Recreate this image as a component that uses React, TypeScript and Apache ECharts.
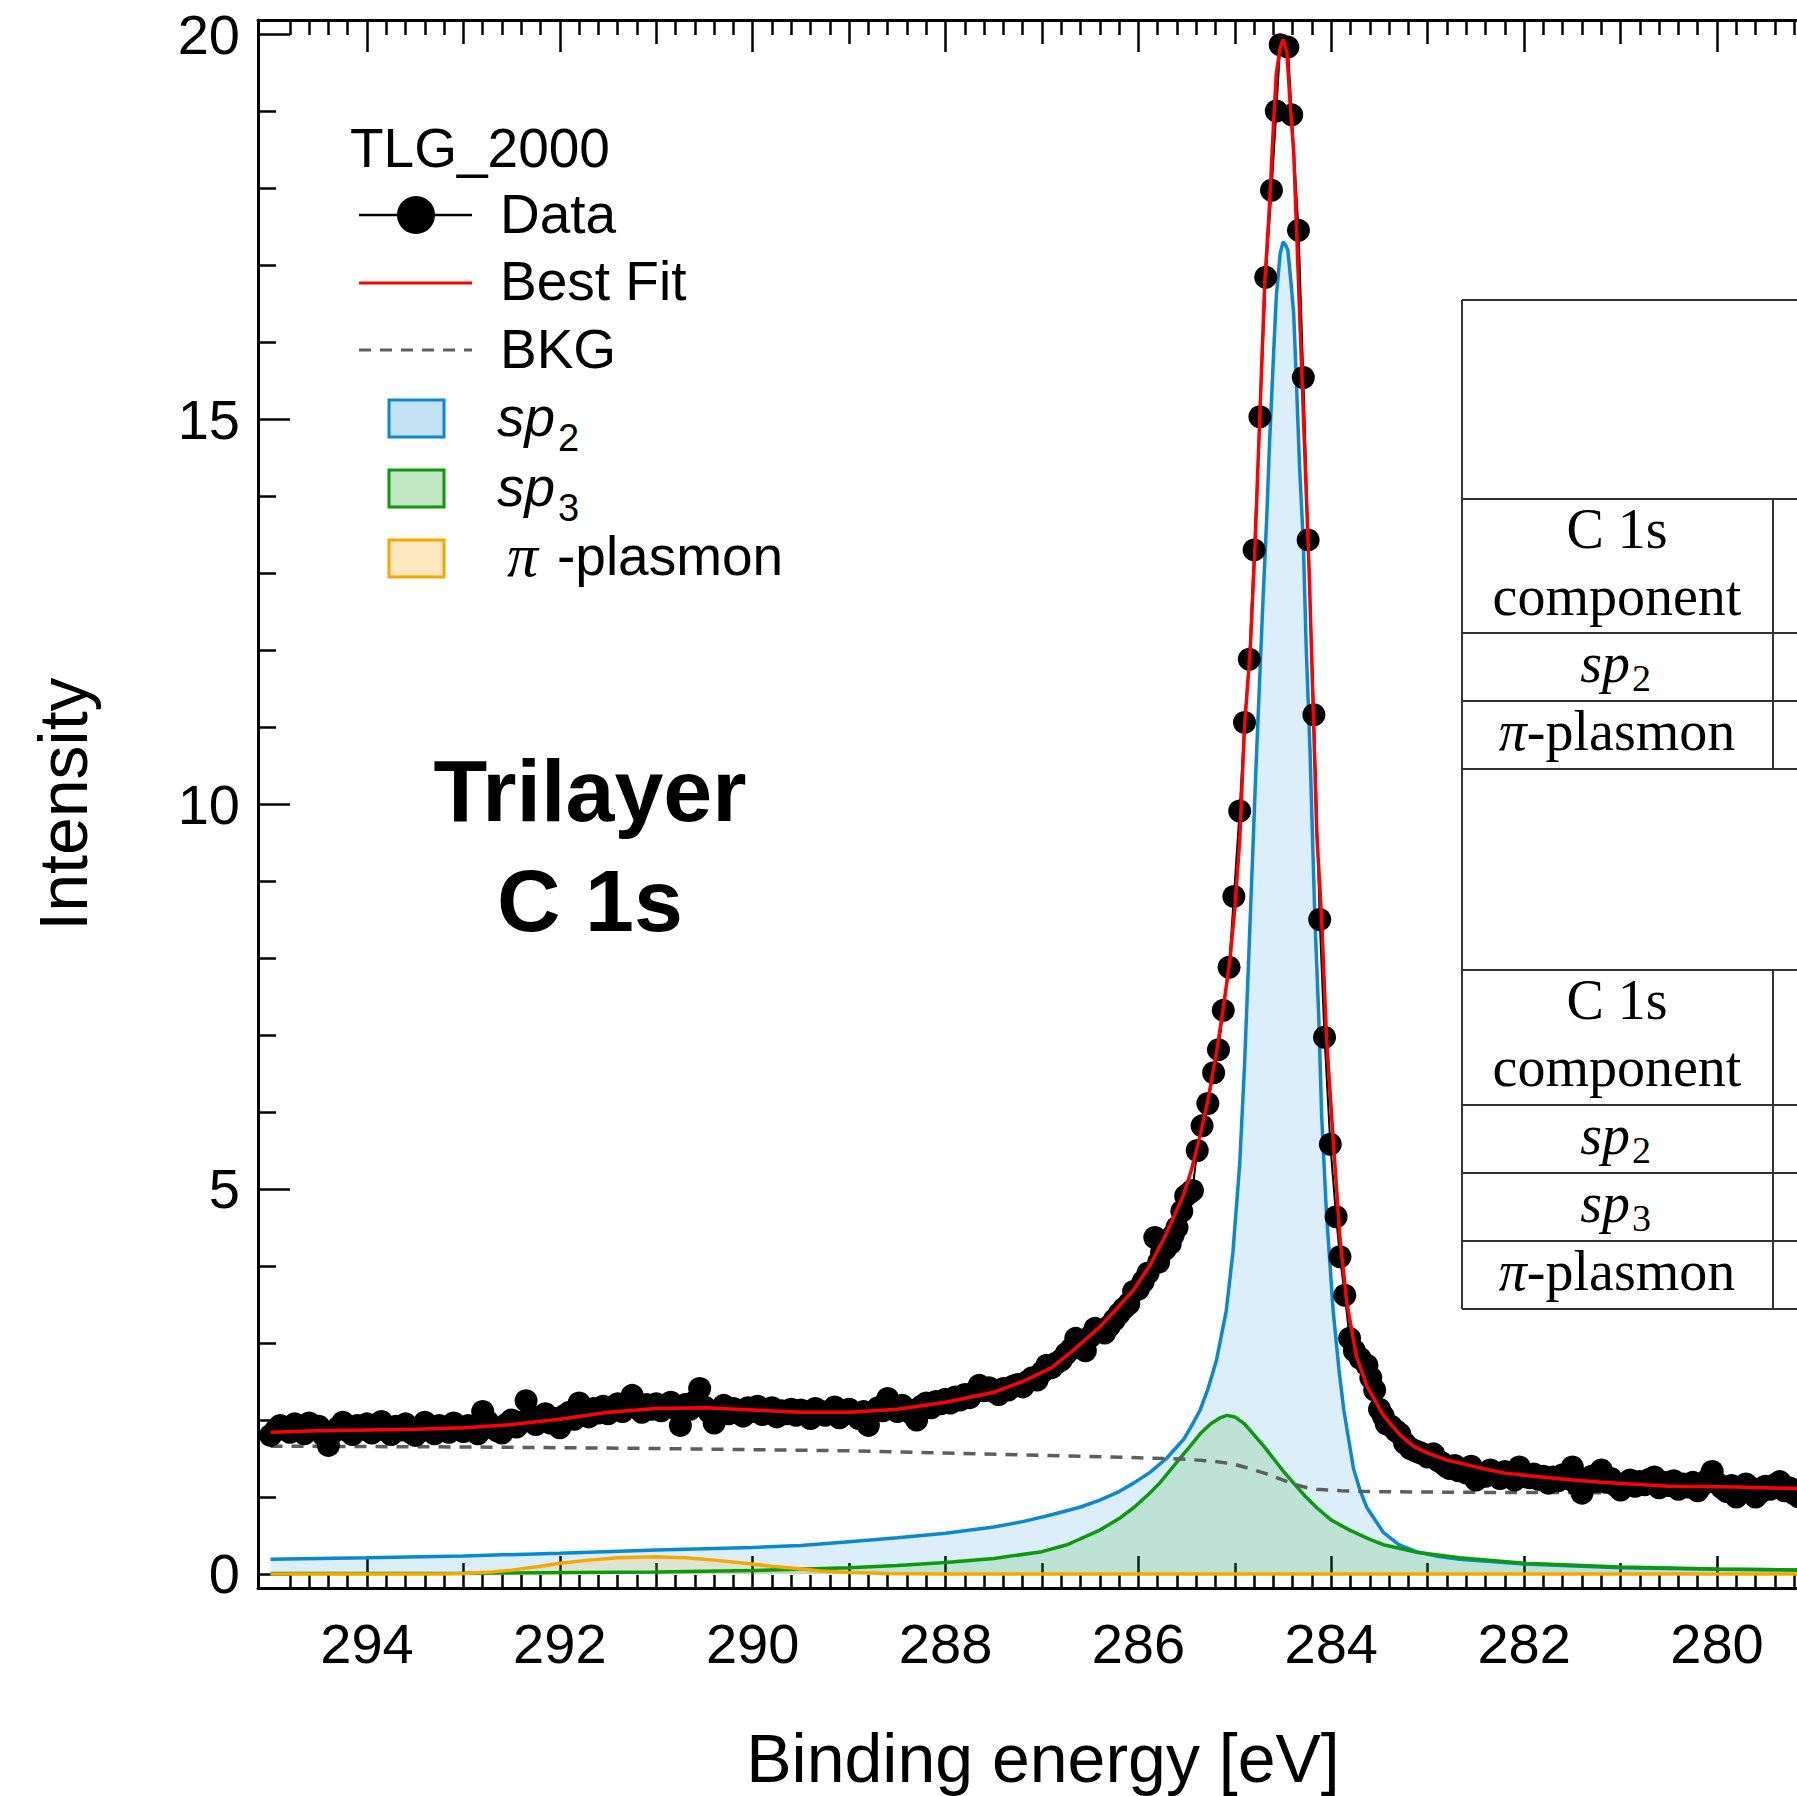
import React, { useEffect, useRef } from "react";
import * as echarts from "echarts";

// ---------- axis ranges & ticks ----------
const X_MIN = 278.849;
const X_MAX = 295.13;
const Y_MIN = -0.182;
const Y_MAX = 20.182;

const xMajorTicks = [280, 282, 284, 286, 288, 290, 292, 294];
const xMidTicks = [279, 281, 283, 285, 287, 289, 291, 293];
const xMinorTicks: number[] = [];
for (let k = 1395; k <= 1474; k++) {
  const v = k / 5;
  if (Math.abs(v - Math.round(v)) > 1e-6) xMinorTicks.push(v);
}
const yMajorTicks = [0, 5, 10, 15, 20];
const yMinorTicks = [1, 2, 3, 4, 6, 7, 8, 9, 11, 12, 13, 14, 16, 17, 18, 19];

const DATA_STEP = 0.05;
const dataLeftStart = 295.0;
const dataLeft = [
  1.80, 1.86, 1.93, 1.90, 1.84, 1.95, 1.88, 1.82, 1.96, 1.91,
  1.92, 1.80, 1.67, 1.84, 1.90, 1.97, 1.86, 1.81, 1.93, 1.88,
  1.95, 1.83, 1.90, 1.98, 1.86, 1.81, 1.92, 1.87, 1.95, 1.84,
  1.80, 1.91, 1.97, 1.86, 1.82, 1.93, 1.89, 1.84, 1.96, 1.90,
  1.85, 1.93, 1.88, 1.82, 2.11, 1.98, 1.90, 1.86, 1.83, 1.95,
  2.00, 1.91, 1.97, 2.25, 2.05, 1.94, 2.03, 2.08, 1.96, 2.02,
  1.90, 2.06, 2.10, 2.01, 2.22, 2.12, 2.04, 2.15, 2.09, 2.18,
  2.08, 2.14, 2.21, 2.11, 2.18, 2.32, 2.17, 2.10, 2.20, 2.14,
  2.21, 2.12, 2.18, 2.23, 2.15, 1.93, 2.20, 2.14, 2.24, 2.41,
  2.17, 2.10, 1.96, 2.12, 2.19, 2.08, 2.15, 2.10, 2.05, 2.16,
  2.11, 2.18, 2.07, 2.13, 2.16, 2.04, 2.12, 2.08, 2.14, 2.06,
  2.13, 2.09, 2.02, 2.15, 2.11, 2.06, 2.12, 2.17, 2.03, 2.10,
  2.14, 2.07, 2.02, 2.11, 1.93, 2.10, 2.16, 2.12, 2.28, 2.15,
  2.11, 2.19, 2.14, 2.08, 2.00, 2.18, 2.22, 2.16, 2.24, 2.21,
  2.27, 2.22, 2.30, 2.26, 2.33, 2.29, 2.36, 2.45, 2.38, 2.42,
  2.37,
];
const dataPeak: [number, number][] = [
  [287.45, 2.33], [287.40, 2.41], [287.35, 2.39], [287.30, 2.44], [287.25, 2.46],
  [287.20, 2.43], [287.15, 2.50], [287.10, 2.55], [287.05, 2.52], [287.00, 2.62],
  [286.95, 2.71], [286.90, 2.68], [286.85, 2.74], [286.80, 2.78], [286.75, 2.86],
  [286.70, 2.92], [286.65, 3.06], [286.60, 2.95], [286.55, 2.90], [286.50, 3.08],
  [286.45, 3.19], [286.40, 3.16], [286.35, 3.13], [286.30, 3.22], [286.25, 3.30],
  [286.20, 3.38], [286.15, 3.45], [286.10, 3.51], [286.05, 3.67], [286.00, 3.70],
  [285.95, 3.80], [285.90, 3.91], [285.83, 4.37], [285.79, 4.05], [285.76, 4.18],
  [285.72, 4.22], [285.67, 4.29], [285.64, 4.40], [285.60, 4.50], [285.55, 4.71],
  [285.51, 4.91], [285.47, 4.95], [285.44, 4.98], [285.39, 5.50], [285.34, 5.82],
  [285.28, 6.11], [285.22, 6.51], [285.17, 6.81], [285.12, 7.32], [285.06, 7.88],
  [285.01, 8.80], [284.95, 9.91], [284.90, 11.06], [284.85, 11.88], [284.80, 13.30],
  [284.74, 15.03], [284.68, 16.84], [284.62, 17.97], [284.57, 19.00], [284.53, 19.86],
  [284.45, 19.83], [284.41, 18.95], [284.34, 17.45], [284.29, 15.54], [284.24, 13.43],
  [284.18, 11.16], [284.12, 8.50], [284.07, 6.97], [284.01, 5.58], [283.95, 4.64],
  [283.91, 4.12], [283.86, 3.62], [283.81, 3.06], [283.76, 2.90], [283.70, 2.80],
  [283.63, 2.71], [283.59, 2.55], [283.55, 2.39], [283.50, 2.14], [283.46, 2.05],
  [283.43, 1.95], [283.38, 1.92], [283.33, 1.86], [283.29, 1.82], [283.24, 1.70],
  [283.18, 1.63], [283.13, 1.60], [283.09, 1.58], [283.05, 1.56], [283.00, 1.52],
  [282.94, 1.56], [282.89, 1.47], [282.85, 1.44], [282.81, 1.40], [282.77, 1.37],
  [282.72, 1.41], [282.68, 1.34],
];
const dataRightStart = 282.6;
const dataRight = [
  1.31, 1.40, 1.22, 1.30, 1.27, 1.35, 1.29, 1.24, 1.33, 1.28,
  1.22, 1.39, 1.31, 1.25, 1.30, 1.23, 1.27, 1.18, 1.26, 1.21,
  1.29, 1.24, 1.39, 1.16, 1.05, 1.22, 1.27, 1.20, 1.35, 1.19,
  1.24, 1.15, 1.09, 1.18, 1.22, 1.14, 1.20, 1.16, 1.23, 1.26,
  1.12, 1.19, 1.15, 1.21, 1.10, 1.17, 1.13, 1.19, 1.08, 1.16,
  1.22, 1.33, 1.18, 1.12, 1.07, 1.15, 1.00, 1.09, 1.17, 1.12,
  1.00, 1.06, 1.14, 1.10, 1.16, 1.20, 1.08, 1.12, 1.04, 1.00,
  1.09, 1.13, 1.07,
];

// ---------- fit curves ----------
const bestFit: [number, number][] = [
  [295.0, 1.84], [294.5, 1.86], [294.0, 1.87], [293.5, 1.88], [293.0, 1.90],
  [292.5, 1.94], [292.0, 2.01], [291.5, 2.10], [291.0, 2.15], [290.5, 2.16],
  [290.0, 2.13], [289.5, 2.10], [289.0, 2.10], [288.5, 2.14], [288.0, 2.23],
  [287.5, 2.36], [287.2, 2.50], [286.9, 2.68], [286.7, 2.88], [286.4, 3.21],
  [286.2, 3.48], [286.05, 3.69], [285.88, 4.01], [285.71, 4.42], [285.53, 4.93],
  [285.45, 5.25], [285.36, 5.70], [285.28, 6.15], [285.19, 6.78], [285.12, 7.35],
  [285.05, 7.99], [285.0, 8.65], [284.95, 9.52], [284.90, 11.0], [284.84, 12.02],
  [284.79, 13.38], [284.74, 15.08], [284.69, 16.77], [284.64, 17.79], [284.60, 18.81],
  [284.57, 19.49], [284.53, 19.82], [284.50, 19.93], [284.46, 19.76], [284.43, 19.15],
  [284.39, 18.47], [284.36, 17.45], [284.32, 16.09], [284.27, 14.39], [284.23, 13.04],
  [284.19, 11.34], [284.15, 9.6], [284.10, 8.51], [284.05, 6.97], [283.98, 5.64],
  [283.91, 4.36], [283.84, 3.53], [283.74, 2.83], [283.63, 2.44], [283.46, 2.06],
  [283.29, 1.81], [283.15, 1.66], [283.0, 1.57], [282.8, 1.48], [282.6, 1.42],
  [282.4, 1.36], [282.2, 1.31], [281.9, 1.27], [281.5, 1.22], [281.2, 1.19],
  [280.5, 1.14], [279.8, 1.13], [279.2, 1.11], [279.0, 1.10],
];
const background: [number, number][] = [
  [295.0, 1.66], [293.0, 1.65], [291.0, 1.63], [289.0, 1.60], [288.0, 1.57],
  [287.0, 1.54], [286.0, 1.51], [285.5, 1.49], [285.2, 1.46], [285.02, 1.43],
  [284.85, 1.37], [284.67, 1.30], [284.5, 1.22], [284.40, 1.17], [284.25, 1.12],
  [284.15, 1.10], [283.9, 1.08], [283.63, 1.07], [282.5, 1.06], [279.0, 1.05],
];
const sp2Fit: [number, number][] = [
  [295.0, 0.19], [294.0, 0.21], [293.0, 0.235], [292.0, 0.27], [291.0, 0.31],
  [290.0, 0.345], [289.5, 0.37], [289.0, 0.42], [288.5, 0.47], [288.0, 0.53],
  [287.5, 0.61], [287.2, 0.68], [286.9, 0.77], [286.6, 0.87], [286.4, 0.96],
  [286.2, 1.07], [286.05, 1.18], [285.88, 1.32], [285.71, 1.50], [285.53, 1.75],
  [285.45, 1.92], [285.36, 2.13], [285.28, 2.40], [285.19, 2.78], [285.09, 3.41],
  [285.02, 4.18], [284.95, 5.32], [284.90, 6.60], [284.86, 7.88], [284.81, 9.52],
  [284.78, 10.5], [284.75, 11.4], [284.71, 12.6], [284.67, 13.7], [284.64, 14.7],
  [284.60, 15.8], [284.57, 16.6], [284.53, 17.15], [284.50, 17.30], [284.47, 17.25],
  [284.45, 17.19], [284.42, 16.8], [284.39, 16.37], [284.36, 15.43], [284.33, 14.41],
  [284.29, 13.39], [284.26, 12.03], [284.22, 10.67], [284.20, 9.79], [284.17, 8.52],
  [284.13, 7.24], [284.10, 5.96], [284.05, 4.69], [283.98, 3.41], [283.92, 2.65],
  [283.87, 2.13], [283.77, 1.37], [283.70, 1.08], [283.63, 0.86], [283.46, 0.54],
  [283.3, 0.38], [283.12, 0.29], [282.9, 0.23], [282.67, 0.19], [282.0, 0.13],
  [281.0, 0.08], [280.0, 0.06], [279.0, 0.05],
];
const sp3Fit: [number, number][] = [
  [295.0, 0.005], [293.0, 0.01], [291.0, 0.025], [290.0, 0.045], [289.0, 0.08],
  [288.5, 0.11], [288.0, 0.15], [287.5, 0.20], [287.0, 0.29], [286.74, 0.38],
  [286.4, 0.57], [286.2, 0.72], [286.05, 0.86], [285.9, 1.03], [285.78, 1.18],
  [285.57, 1.50], [285.45, 1.68], [285.36, 1.82], [285.25, 1.95], [285.15, 2.03],
  [285.08, 2.06], [285.0, 2.04], [284.9, 1.95], [284.81, 1.82], [284.7, 1.66],
  [284.60, 1.50], [284.5, 1.34], [284.39, 1.18], [284.27, 1.01], [284.15, 0.86],
  [284.0, 0.70], [283.81, 0.57], [283.6, 0.45], [283.46, 0.38], [283.1, 0.28],
  [282.67, 0.21], [282.0, 0.14], [281.0, 0.09], [280.0, 0.065], [279.0, 0.05],
];
const plasmonFit: [number, number][] = [
  [295.0, 0], [293.2, 0], [293.0, 0.005], [292.7, 0.025], [292.5, 0.05],
  [292.2, 0.10], [292.0, 0.14], [291.7, 0.18], [291.4, 0.21], [291.03, 0.225],
  [290.7, 0.21], [290.4, 0.18], [290.08, 0.14], [289.8, 0.10], [289.55, 0.07],
  [289.3, 0.04], [289.0, 0.02], [288.6, 0.005], [288.0, 0], [279.0, 0],
];

const legendLabels = ["TLG_2000", "Data", "Best Fit", "BKG"];
const tableRowsA = ["sp2", "π-plasmon"];
const tableRowsB = ["sp2", "sp3", "π-plasmon"];

const SANS = '"Liberation Sans", Arial, Helvetica, sans-serif';
const SERIF = '"Liberation Serif", "Times New Roman", serif';

const COLORS = {
  sp2: "#0a88d0",
  sp2Fill: "rgba(0,136,209,0.2)",
  sp2Legend: "#c3e2f4",
  sp3: "#0a9a0a",
  sp3Fill: "rgba(0,160,0,0.2)",
  sp3Legend: "#c2e7c2",
  pl: "#f7a800",
  plFill: "rgba(250,170,0,0.22)",
  plLegend: "#fde8c2",
  bkg: "#5e5e5e",
  fit: "#ff0000",
};

function buildData(): [number, number][] {
  const out: [number, number][] = [];
  dataLeft.forEach((v, i) => out.push([+(dataLeftStart - i * DATA_STEP).toFixed(2), v]));
  dataPeak.forEach((p) => out.push(p));
  dataRight.forEach((v, i) => out.push([+(dataRightStart - i * DATA_STEP).toFixed(2), v]));
  return out;
}

function txt(text: string, x: number, y: number, extra: any = {}) {
  return {
    type: "text",
    silent: true,
    style: {
      text,
      x,
      y,
      fill: "#000",
      fontSize: 55,
      fontFamily: SANS,
      textAlign: "left",
      align: "left",
      textVerticalAlign: "middle",
      verticalAlign: "middle",
      ...extra,
    },
  };
}

function hline(x1: number, x2: number, y: number) {
  return { type: "line", silent: true, shape: { x1, y1: y, x2, y2: y }, style: { stroke: "#333", lineWidth: 2 } };
}
function vline(x: number, y1: number, y2: number) {
  return { type: "line", silent: true, shape: { x1: x, y1, x2: x, y2 }, style: { stroke: "#333", lineWidth: 2 } };
}

function tableLabel(label: string, cx: number, cy: number): any[] {
  const fs = 56;
  if (label === "sp2" || label === "sp3") {
    return [
      txt("sp", cx + 13, cy - 4, { fontFamily: SERIF, fontStyle: "italic", fontSize: fs, textAlign: "right", align: "right" }),
      txt(label.slice(2), cx + 15, cy + 11, { fontFamily: SERIF, fontSize: 38, lineHeight: 34 }),
    ];
  }
  return [
    {
      type: "text",
      silent: true,
      style: {
        text: "{i|π}{r|-plasmon}",
        x: cx,
        y: cy - 4,
        textAlign: "center",
        align: "center",
        textVerticalAlign: "middle",
        verticalAlign: "middle",
        fill: "#000",
        rich: {
          i: { fontFamily: SERIF, fontStyle: "italic", fontSize: fs, fill: "#000" },
          r: { fontFamily: SERIF, fontSize: fs, fill: "#000" },
        },
      },
    },
  ];
}

function buildGraphic(): any[] {
  const g: any[] = [];
  // legend
  g.push(txt(legendLabels[0], 350, 148));
  g.push({ type: "line", silent: true, shape: { x1: 359, y1: 215, x2: 472, y2: 215 }, style: { stroke: "#000", lineWidth: 2.5 } });
  g.push({ type: "circle", silent: true, shape: { cx: 416, cy: 215, r: 19 }, style: { fill: "#000" } });
  g.push(txt(legendLabels[1], 500, 214));
  g.push({ type: "line", silent: true, shape: { x1: 359, y1: 283, x2: 472, y2: 283 }, style: { stroke: COLORS.fit, lineWidth: 3 } });
  g.push(txt(legendLabels[2], 500, 281));
  g.push({ type: "line", silent: true, shape: { x1: 359, y1: 350, x2: 472, y2: 350 }, style: { stroke: COLORS.bkg, lineWidth: 3, lineDash: [12, 9] } });
  g.push(txt(legendLabels[3], 500, 349));
  const rects = [
    { y: 400, fill: COLORS.sp2Legend, stroke: COLORS.sp2 },
    { y: 470, fill: COLORS.sp3Legend, stroke: COLORS.sp3 },
    { y: 540, fill: COLORS.plLegend, stroke: COLORS.pl },
  ];
  rects.forEach((r) =>
    g.push({ type: "rect", silent: true, shape: { x: 389, y: r.y, width: 55, height: 37 }, style: { fill: r.fill, stroke: r.stroke, lineWidth: 3 } })
  );
  g.push(txt("sp", 497, 417, { fontStyle: "italic", lineHeight: 50 }));
  g.push(txt("2", 558, 438, { fontSize: 38, lineHeight: 32 }));
  g.push(txt("sp", 497, 487, { fontStyle: "italic", lineHeight: 50 }));
  g.push(txt("3", 558, 508, { fontSize: 38, lineHeight: 32 }));
  g.push(txt("π", 507, 555, { fontFamily: SERIF, fontStyle: "italic", fontSize: 62, lineHeight: 52 }));
  g.push(txt("-plasmon", 557, 556, { lineHeight: 52 }));

  // annotation
  g.push(txt("Trilayer", 590, 790, { fontWeight: "bold", fontSize: 88, textAlign: "center", align: "center" }));
  g.push(txt("C 1s", 590, 900, { fontWeight: "bold", fontSize: 88, textAlign: "center", align: "center" }));

  // table (partially visible)
  const L = 1462;
  const R = 1900;
  const colX = 1773;
  const cx = 1617;
  g.push(vline(L, 300, 1309));
  [300, 499, 633, 701, 769, 970, 1105, 1173, 1241, 1309].forEach((y) => g.push(hline(L, R, y)));
  g.push(vline(colX, 499, 769));
  g.push(vline(colX, 970, 1309));
  const serif = { fontFamily: SERIF, fontSize: 56, textAlign: "center", align: "center" };
  g.push(txt("C 1s", cx, 529, serif));
  g.push(txt("component", cx, 596, serif));
  g.push(...tableLabel(tableRowsA[0], cx, 667));
  g.push(...tableLabel(tableRowsA[1], cx, 735));
  g.push(txt("C 1s", cx, 1000, serif));
  g.push(txt("component", cx, 1067, serif));
  g.push(...tableLabel(tableRowsB[0], cx, 1139));
  g.push(...tableLabel(tableRowsB[1], cx, 1207));
  g.push(...tableLabel(tableRowsB[2], cx, 1275));
  return g;
}

function xAxisDef(position: "top" | "bottom", ticks: number[], length: number, opts: any = {}) {
  return {
    type: "value",
    position,
    min: X_MIN,
    max: X_MAX,
    inverse: true,
    splitLine: { show: false },
    axisLine: { show: false, onZero: false },
    axisTick: { show: true, inside: true, length, customValues: ticks, lineStyle: { color: "#000", width: 2.5 } },
    axisLabel: { show: false },
    ...opts,
  };
}

function yAxisDef(ticks: number[], length: number, opts: any = {}) {
  return {
    type: "value",
    position: "left",
    min: Y_MIN,
    max: Y_MAX,
    splitLine: { show: false },
    axisLine: { show: false, onZero: false },
    axisTick: { show: true, inside: true, length, customValues: ticks, lineStyle: { color: "#000", width: 2.5 } },
    axisLabel: { show: false },
    ...opts,
  };
}

export default function App() {
  const ref = useRef<HTMLDivElement>(null);
  useEffect(() => {
    if (!ref.current) return;
    const chart = echarts.init(ref.current, null, { renderer: "svg" });
    const axisLineStyle = { show: true, onZero: false, lineStyle: { color: "#000", width: 3 } };
    const option: any = {
      animation: false,
      backgroundColor: "#fff",
      grid: { left: 258, right: 72, top: 20, bottom: 208, containLabel: false, outerBoundsMode: "none" },
      xAxis: [
        xAxisDef("bottom", xMajorTicks, 32, {
          axisLine: axisLineStyle,
          axisLabel: {
            show: true,
            customValues: xMajorTicks,
            margin: 55,
            verticalAlign: "middle",
            fontSize: 56,
            fontFamily: SANS,
            color: "#000",
          },
          name: "Binding energy [eV]",
          nameLocation: "middle",
          nameGap: 170,
          nameTextStyle: { fontSize: 68, lineHeight: 60, fontFamily: SANS, color: "#000", verticalAlign: "middle" },
        }),
        xAxisDef("bottom", xMidTicks, 25),
        xAxisDef("bottom", xMinorTicks, 13),
        xAxisDef("top", xMajorTicks, 32, { axisLine: axisLineStyle }),
        xAxisDef("top", xMidTicks, 24),
        xAxisDef("top", xMinorTicks, 15),
      ],
      yAxis: [
        yAxisDef(yMajorTicks, 32, {
          axisLine: axisLineStyle,
          axisLabel: {
            show: true,
            customValues: yMajorTicks,
            margin: 18,
            fontSize: 56,
            fontFamily: SANS,
            color: "#000",
          },
          name: "Intensity",
          nameLocation: "middle",
          nameGap: 195,
          nameRotate: 90,
          nameTextStyle: { fontSize: 68, fontFamily: SANS, color: "#000", verticalAlign: "middle" },
        }),
        yAxisDef(yMinorTicks, 18),
      ],
      series: [
        {
          type: "line", name: "sp2", data: sp2Fit, symbol: "none", silent: true,
          lineStyle: { color: COLORS.sp2, width: 3.5 }, areaStyle: { color: COLORS.sp2Fill }, z: 2,
        },
        {
          type: "line", name: "sp3", data: sp3Fit, symbol: "none", silent: true,
          lineStyle: { color: COLORS.sp3, width: 3.5 }, areaStyle: { color: COLORS.sp3Fill }, z: 2,
        },
        {
          type: "line", name: "π-plasmon", data: plasmonFit, symbol: "none", silent: true,
          lineStyle: { color: COLORS.pl, width: 3.5 }, areaStyle: { color: COLORS.plFill }, z: 2,
        },
        {
          type: "line", name: "BKG", data: background, symbol: "none", silent: true,
          lineStyle: { color: COLORS.bkg, width: 3.5, type: [12, 9] }, z: 3,
        },
        {
          type: "line", name: "Data", data: buildData(), symbol: "circle", symbolSize: 23, silent: true,
          itemStyle: { color: "#000" }, lineStyle: { color: "#000", width: 2 }, z: 4,
        },
        {
          type: "line", name: "Best Fit", data: bestFit, symbol: "none", silent: true,
          lineStyle: { color: COLORS.fit, width: 3.5 }, z: 5,
        },
      ],
      graphic: { elements: buildGraphic() },
    };
    chart.setOption(option);
    return () => chart.dispose();
  }, []);
  return (
    <div
      style={{
        position: "fixed",
        left: 0,
        top: 0,
        width: 1797,
        height: 1796,
        overflow: "hidden",
        background: "#fff",
      }}
    >
      <div ref={ref} style={{ width: 1900, height: 1796 }} />
    </div>
  );
}
